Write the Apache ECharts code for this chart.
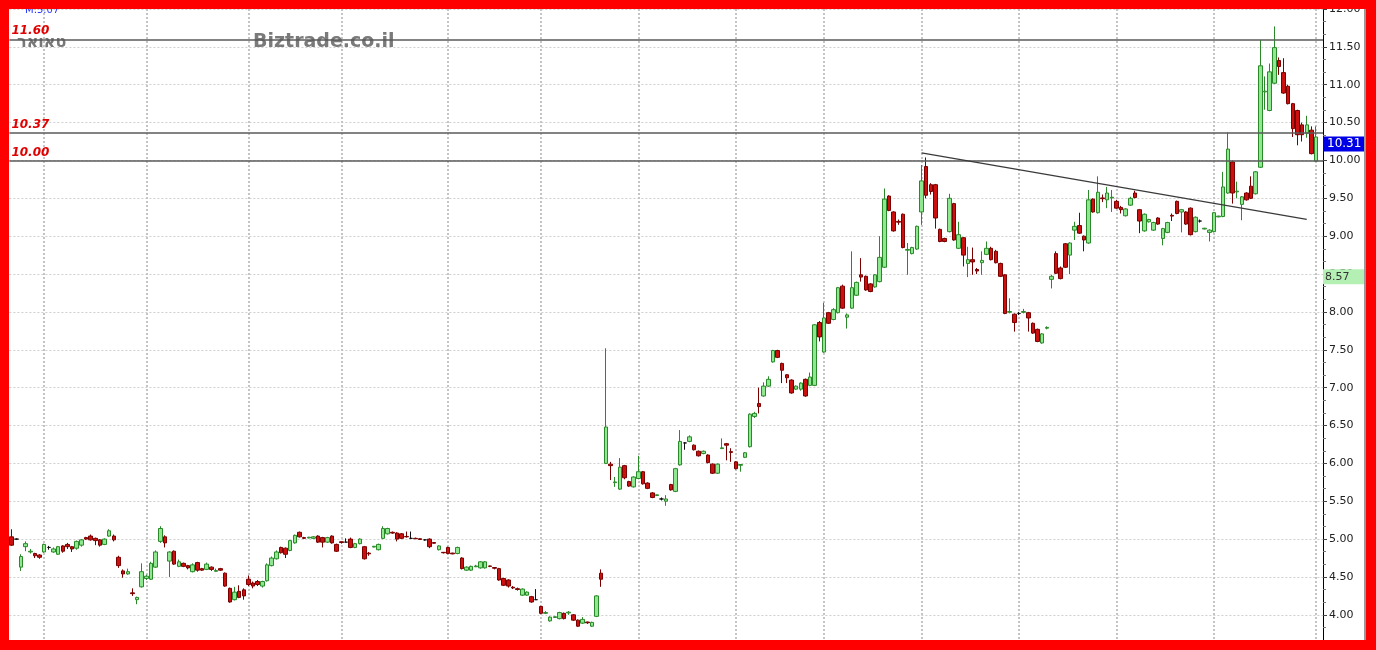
<!DOCTYPE html>
<html><head><meta charset="utf-8">
<script src="https://cdn.jsdelivr.net/npm/echarts@6/dist/echarts.min.js"></script>
<style>
html,body{margin:0;padding:0;background:#fff;overflow:hidden;width:1376px;height:650px}
#c{position:absolute;left:0;top:0;width:1376px;height:650px}
.b{position:absolute;background:#ff0000}
</style></head><body>
<div id="c"></div>
<div class="b" style="left:0;top:0;width:1376px;height:9px"></div>
<div class="b" style="left:0;top:640px;width:1376px;height:10px"></div>
<div class="b" style="left:0;top:0;width:9px;height:650px"></div>
<div class="b" style="left:1366px;top:0;width:10px;height:650px"></div>
<div style="position:absolute;left:1364px;top:9px;width:2px;height:631px;background:#9a9a9a"></div>
<script>
// ---- data ----
const open = [
5.03,5.00,4.63,4.90,4.83,4.81,4.79,4.83,4.89,4.83,
4.80,4.91,4.93,4.90,4.88,4.92,5.02,5.04,5.01,4.99,
4.93,5.04,5.04,4.76,4.58,4.54,4.29,4.20,4.37,4.48,
4.47,4.63,4.97,5.03,4.71,4.84,4.64,4.68,4.65,4.57,
4.69,4.61,4.60,4.63,4.575,4.61,4.55,4.35,4.20,4.31,
4.33,4.47,4.42,4.44,4.38,4.45,4.65,4.74,4.89,4.88,
4.85,4.95,5.09,5.02,5.015,5.01,5.04,5.02,4.96,5.04,
4.93,4.965,4.96,5.00,4.89,4.94,4.90,4.815,4.895,4.86,
5.01,5.07,5.09,5.08,5.07,5.035,5.01,5.01,5.005,4.99,
5.00,4.955,4.86,4.825,4.89,4.815,4.81,4.75,4.59,4.59,
4.635,4.62,4.62,4.645,4.625,4.61,4.48,4.46,4.365,4.345,
4.26,4.26,4.24,4.20,4.11,4.02,3.92,3.965,3.95,4.02,
4.025,4.00,3.93,3.89,3.905,3.85,3.98,4.55,6.00,5.99,
5.745,5.66,5.97,5.76,5.69,5.80,5.89,5.74,5.61,5.575,
5.53,5.50,5.72,5.63,5.98,6.27,6.29,6.24,6.16,6.13,
6.11,5.99,5.87,6.195,6.26,6.155,6.02,5.975,6.08,6.22,
6.62,6.79,6.89,7.02,7.34,7.49,7.32,7.17,7.10,6.98,
6.98,7.11,7.03,7.03,7.86,7.47,7.99,7.90,7.99,8.34,
7.93,8.05,8.22,8.49,8.47,8.37,8.33,8.40,8.59,9.53,
9.32,9.195,9.29,8.815,8.77,8.83,9.32,9.92,9.68,9.68,
9.09,8.97,9.06,9.43,8.84,8.98,8.64,8.69,8.56,8.65,
8.76,8.84,8.80,8.64,8.49,7.995,7.97,7.98,7.995,7.99,
7.85,7.77,7.59,7.785,8.43,8.77,8.58,8.90,8.75,9.08,
9.14,9.00,8.91,9.49,9.31,9.505,9.48,9.505,9.46,9.38,
9.27,9.41,9.57,9.35,9.07,9.19,9.08,9.24,8.97,9.05,
9.275,9.46,9.32,9.32,9.37,9.06,9.20,9.095,9.05,9.06,
9.255,9.26,9.57,9.98,9.585,9.42,9.57,9.66,9.56,9.91,
10.905,10.66,11.02,11.32,11.16,10.98,10.75,10.66,10.47,10.36,
10.40,9.99];
const close = [
4.92,5.00,4.77,4.94,4.84,4.78,4.76,4.93,4.89,4.87,
4.90,4.84,4.90,4.87,4.97,4.99,5.00,4.99,4.98,4.92,
5.00,5.11,4.99,4.65,4.54,4.57,4.28,4.23,4.57,4.51,
4.68,4.83,5.14,4.95,4.83,4.67,4.70,4.64,4.62,4.66,
4.59,4.59,4.67,4.60,4.585,4.59,4.38,4.17,4.30,4.23,
4.25,4.40,4.38,4.40,4.44,4.66,4.75,4.83,4.82,4.80,
4.98,5.05,5.03,5.01,5.025,5.03,4.96,4.96,5.02,4.95,
4.84,4.955,4.96,4.89,4.94,5.00,4.74,4.805,4.905,4.93,
5.14,5.14,5.08,5.00,5.01,5.03,5.01,5.005,4.995,4.99,
4.90,4.945,4.91,4.82,4.81,4.805,4.89,4.61,4.63,4.64,
4.645,4.70,4.70,4.64,4.615,4.46,4.39,4.38,4.355,4.335,
4.34,4.30,4.17,4.20,4.02,4.03,3.97,3.975,4.03,3.95,
4.035,3.93,3.85,3.94,3.895,3.90,4.25,4.47,6.48,5.97,
5.755,5.95,5.81,5.70,5.82,5.89,5.73,5.67,5.55,5.585,
5.53,5.53,5.65,5.93,6.29,6.27,6.35,6.18,6.10,6.16,
6.01,5.87,5.99,6.205,6.24,6.145,5.93,5.985,6.14,6.65,
6.66,6.75,7.02,7.11,7.49,7.40,7.23,7.13,6.93,7.02,
7.06,6.89,7.14,7.83,7.67,7.92,7.85,8.03,8.32,8.05,
7.96,8.32,8.39,8.46,8.29,8.27,8.49,8.72,9.49,9.34,
9.07,9.185,8.85,8.825,8.85,9.13,9.73,9.54,9.59,9.24,
8.93,8.93,9.50,8.95,9.02,8.75,8.69,8.66,8.54,8.68,
8.84,8.69,8.65,8.47,7.98,8.005,7.86,7.98,8.005,7.92,
7.72,7.61,7.71,7.795,8.47,8.51,8.44,8.59,8.91,9.13,
9.04,8.95,9.48,9.32,9.58,9.495,9.57,9.515,9.37,9.35,
9.36,9.50,9.51,9.20,9.29,9.22,9.18,9.16,9.10,9.18,
9.265,9.30,9.35,9.16,9.02,9.25,9.20,9.105,9.08,9.31,
9.265,9.65,10.15,9.57,9.595,9.52,9.48,9.50,9.85,11.25,
10.915,11.17,11.49,11.24,10.89,10.75,10.42,10.34,10.34,10.47,
10.09,10.31];
const low = [
4.91,4.99,4.58,4.84,4.81,4.75,4.74,4.82,4.86,4.82,
4.79,4.82,4.87,4.83,4.86,4.90,4.99,4.98,4.92,4.90,
4.92,5.03,4.97,4.62,4.49,4.53,4.25,4.14,4.36,4.46,
4.46,4.62,4.95,4.89,4.50,4.66,4.63,4.63,4.60,4.56,
4.57,4.58,4.59,4.58,4.57,4.58,4.37,4.16,4.19,4.22,
4.20,4.38,4.35,4.38,4.36,4.44,4.64,4.73,4.81,4.75,
4.84,4.94,5.02,5.00,5.01,5.00,4.95,4.89,4.95,4.94,
4.83,4.94,4.96,4.88,4.88,4.93,4.73,4.78,4.89,4.85,
5.00,5.06,5.07,4.97,5.00,5.02,5.01,5.00,4.99,4.98,
4.88,4.94,4.85,4.81,4.80,4.80,4.80,4.60,4.58,4.58,
4.63,4.61,4.61,4.63,4.60,4.45,4.38,4.36,4.34,4.32,
4.25,4.25,4.16,4.20,4.01,4.01,3.91,3.96,3.94,3.94,
4.00,3.92,3.84,3.88,3.88,3.84,3.97,4.37,5.99,5.78,
5.69,5.65,5.79,5.69,5.68,5.79,5.72,5.66,5.54,5.57,
5.51,5.44,5.64,5.62,5.97,6.18,6.28,6.17,6.09,6.12,
6.00,5.86,5.86,6.19,6.04,6.02,5.92,5.89,6.07,6.21,
6.60,6.66,6.88,7.01,7.33,7.39,7.06,7.06,6.92,6.97,
6.96,6.88,7.02,7.02,7.61,7.46,7.84,7.89,7.98,8.04,
7.78,8.04,8.21,8.40,8.28,8.26,8.32,8.39,8.58,9.33,
9.06,9.15,8.84,8.49,8.76,8.82,9.15,9.50,9.55,9.10,
8.92,8.92,9.05,8.94,8.83,8.60,8.46,8.49,8.50,8.49,
8.75,8.68,8.64,8.46,7.97,7.98,7.74,7.96,7.98,7.74,
7.71,7.60,7.58,7.77,8.31,8.50,8.43,8.58,8.50,8.95,
9.03,8.80,8.90,9.31,9.30,9.45,9.37,9.32,9.36,9.30,
9.26,9.40,9.50,9.04,9.06,9.18,9.07,9.15,8.88,9.04,
9.20,9.29,9.05,9.15,9.01,9.05,9.18,9.09,8.93,9.05,
9.25,9.25,9.56,9.43,9.50,9.21,9.47,9.49,9.55,9.90,
10.67,10.65,11.01,11.13,10.88,10.74,10.31,10.20,10.25,10.30,
10.08,9.98];
const high = [
5.13,5.01,4.80,4.97,4.87,4.82,4.80,4.94,4.91,4.89,
4.91,4.92,4.95,4.91,4.98,5.00,5.03,5.06,5.02,5.00,
5.01,5.13,5.06,4.78,4.60,4.61,4.35,4.24,4.68,4.53,
4.70,4.85,5.17,5.05,4.84,4.85,4.73,4.69,4.66,4.68,
4.70,4.62,4.69,4.64,4.61,4.62,4.56,4.36,4.37,4.39,
4.35,4.52,4.44,4.46,4.45,4.68,4.77,4.85,4.90,4.89,
4.99,5.06,5.10,5.03,5.03,5.04,5.05,5.03,5.03,5.05,
4.94,4.97,5.01,5.02,4.95,5.01,4.91,4.83,4.91,4.94,
5.17,5.15,5.10,5.09,5.08,5.10,5.10,5.02,5.01,5.00,
5.01,4.96,4.92,4.83,4.90,4.82,4.90,4.76,4.64,4.65,
4.66,4.71,4.71,4.65,4.63,4.62,4.49,4.47,4.38,4.36,
4.35,4.31,4.25,4.34,4.12,4.05,3.98,3.98,4.04,4.03,
4.05,4.01,3.94,3.97,3.91,3.91,4.26,4.60,7.52,6.02,
5.82,6.07,5.98,5.77,5.83,6.10,5.90,5.75,5.62,5.59,
5.55,5.58,5.73,5.94,6.44,6.28,6.37,6.25,6.17,6.17,
6.12,6.00,6.00,6.33,6.27,6.20,6.03,5.99,6.15,6.66,
6.68,7.00,7.07,7.15,7.50,7.50,7.33,7.18,7.11,7.03,
7.07,7.12,7.20,7.84,7.88,8.12,8.00,8.05,8.33,8.36,
7.98,8.80,8.40,8.71,8.48,8.38,8.50,9.00,9.63,9.54,
9.33,9.22,9.30,8.91,8.86,9.14,9.94,10.04,9.70,9.69,
9.10,8.98,9.56,9.44,9.19,8.99,8.86,8.85,8.58,8.80,
8.93,8.86,8.82,8.65,8.50,8.18,7.98,8.00,8.04,8.00,
7.86,7.78,7.72,7.81,8.49,8.80,8.60,8.91,8.92,9.19,
9.31,9.01,9.61,9.50,9.79,9.55,9.65,9.61,9.48,9.40,
9.37,9.52,9.60,9.36,9.30,9.23,9.19,9.25,9.11,9.19,
9.30,9.47,9.36,9.33,9.38,9.26,9.22,9.11,9.09,9.32,
9.27,9.85,10.37,10.00,9.72,9.53,9.58,9.79,9.86,11.59,
11.11,11.28,11.77,11.36,11.35,11.00,10.76,10.67,10.50,10.59,
10.45,10.45];
// month boundaries (category index where the dotted vertical line sits)
const monthStarts = [7, 29, 51, 71, 94, 114, 135, 156, 175, 196, 217, 238, 259, 281];
// horizontal levels and their labels
const levels = [11.60, 10.37, 10.00];
const levelLabels = ['11.60', '10.37', '10.00'];
// trend line end points: [category number, price]
const trendStart = [197, 10.10];
const trendEnd = [280, 9.223];
const lastPrice = 10.31;
const sidePrice = 8.57;
const symbolName = 'טאואר';
const headerText = 'M:5.07';
const watermark = 'Biztrade.co.il';

// ---- build ----
const categories = open.map((_, i) => 'day ' + (i + 1));
categories.push('day ' + (open.length + 1)); // one empty slot on the right
const candles = open.map((o, i) => [o, close[i], low[i], high[i]]);

const clear = 'rgba(0,0,0,0)';
const markData = levels.map((v, i) => ({
  yAxis: v,
  lineStyle: { color: '#5a5a5a', width: 1.6, type: 'solid' },
  label: {
    show: true, position: 'insideStartTop', formatter: levelLabels[i],
    color: '#e00000', fontStyle: 'italic', fontWeight: 'bold',
    fontFamily: 'DejaVu Sans', fontSize: 12, distance: [2, 2]
  }
}));
markData.push([
  { coord: ['day ' + trendStart[0], trendStart[1]] },
  { coord: ['day ' + trendEnd[0], trendEnd[1]],
    lineStyle: { color: '#3a3a3a', width: 1.3, type: 'solid' }, label: { show: false } }
]);
markData.push({
  yAxis: lastPrice, lineStyle: { color: clear, width: 0 },
  label: { show: true, position: 'end', distance: 0, formatter: lastPrice.toFixed(2),
    backgroundColor: '#0000e6', color: '#ffffff', padding: [2, 4, 1, 4],
    fontFamily: 'DejaVu Sans', fontSize: 12, offset: [0, 7] }
});
markData.push({
  yAxis: sidePrice, lineStyle: { color: clear, width: 0 },
  label: { show: true, position: 'end', distance: 0, formatter: sidePrice.toFixed(2),
    backgroundColor: '#b4f0b4', color: '#333', padding: [3, 12, 1, 2], width: 28,
    fontFamily: 'DejaVu Sans', fontSize: 11, offset: [0, 8] }
});

const chart = echarts.init(document.getElementById('c'), null, { renderer: 'canvas' });
chart.setOption({
  animation: false,
  backgroundColor: '#ffffff',
  grid: { left: 9.4, width: 1313.6, top: 9, height: 643.7, outerBoundsMode: 'none', containLabel: false },
  graphic: [
    { type: 'text', left: 25, top: 5, z: 1,
      style: { text: headerText, fill: '#2233ff', font: '10px "DejaVu Sans"' } },
    { type: 'text', left: 17, top: 35, z: 1,
      style: { text: symbolName, fill: '#787878', font: 'bold 16px "DejaVu Sans"' } },
    { type: 'text', left: 253, top: 33, z: 1,
      style: { text: watermark, fill: '#7a7a7a', font: 'bold 19px "DejaVu Sans"' } }
  ],
  xAxis: {
    type: 'category', data: categories, boundaryGap: true,
    axisLine: { show: false }, axisTick: { show: false }, axisLabel: { show: false },
    splitLine: { show: true, alignWithLabel: true, interval: (i) => monthStarts.includes(i),
      lineStyle: { color: '#c4c4c4', type: [2, 2], width: 2 } }
  },
  yAxis: {
    type: 'value', position: 'right', min: 3.5, max: 12, interval: 0.5,
    axisLine: { show: true, lineStyle: { color: '#000', width: 1 } },
    axisTick: { show: true, length: 4, lineStyle: { color: '#444' } },
    minorTick: { show: true, splitNumber: 3, length: 3, lineStyle: { color: '#777' } },
    axisLabel: { color: '#222', fontFamily: 'DejaVu Sans', fontSize: 11, margin: 6,
      formatter: (v) => v.toFixed(2) },
    splitLine: { show: true, lineStyle: { color: '#cfcfcf', type: [2, 2], width: 1 } }
  },
  series: [{
    type: 'candlestick', data: candles, barWidth: 4, z: 5,
    itemStyle: { color: '#8fe88f', color0: '#cc1010', borderColor: '#2a8a2a',
      borderColor0: '#7a0000', borderColorDoji: '#111', borderWidth: 1 },
    markLine: { symbol: 'none', silent: true, animation: false, z: 6, data: markData }
  }]
});
</script>
</body></html>
